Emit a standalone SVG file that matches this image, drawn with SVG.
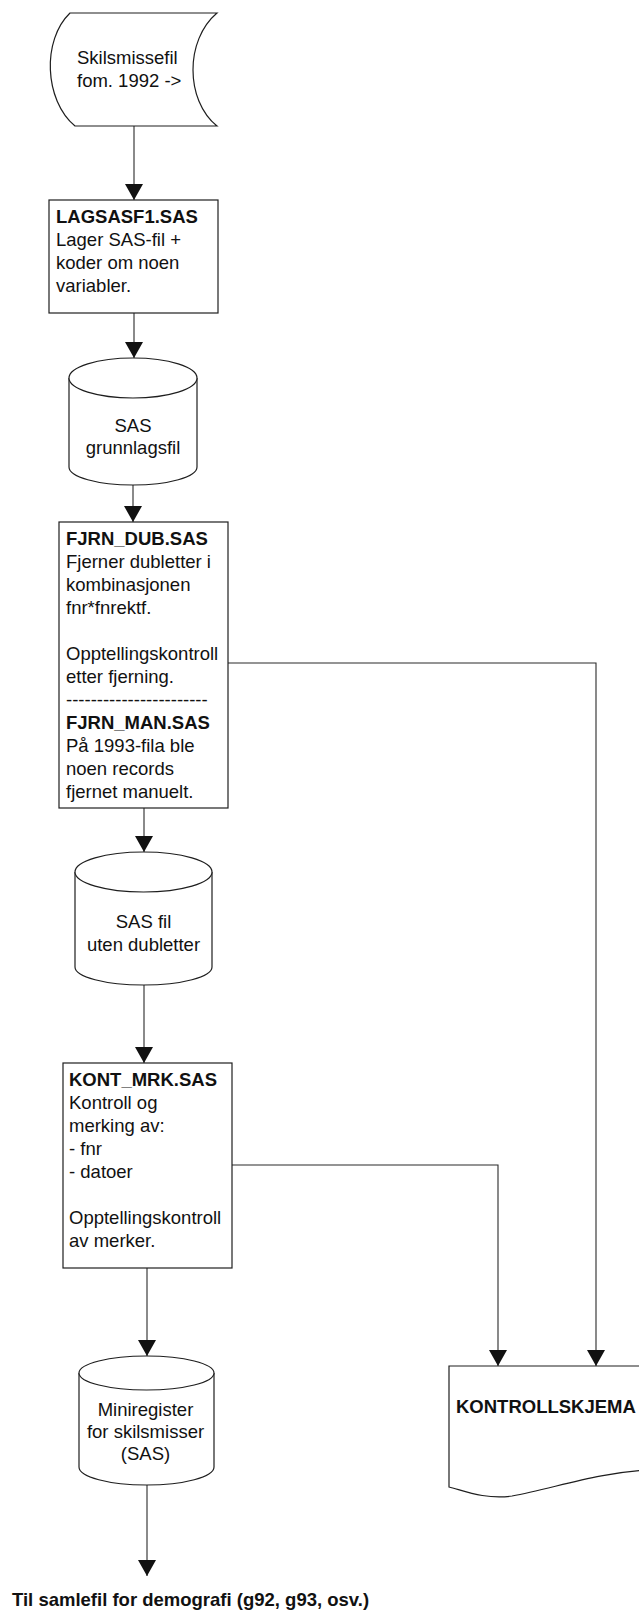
<svg xmlns="http://www.w3.org/2000/svg" width="639" height="1613" viewBox="0 0 639 1613">
<style>
.shape{fill:#fff;stroke:#1e1e1e;stroke-width:1.2}
.line{fill:none;stroke:#2a2a2a;stroke-width:1.1}
text{font-family:"Liberation Sans",Arial,Helvetica,sans-serif;font-size:18.5px;fill:#111}
.b{font-weight:bold}
.c{text-anchor:middle}
</style>
<defs>
<marker id="ah" viewBox="0 0 16 18" refX="16" refY="9" markerWidth="16" markerHeight="18" markerUnits="userSpaceOnUse" orient="auto">
<path d="M0,0 L16,9 L0,18 Z" fill="#111"/>
</marker>
</defs>
<rect width="639" height="1613" fill="#fff"/>
<g id="connectors">
<path class="line" d="M134,126 V200" marker-end="url(#ah)"/>
<path class="line" d="M134,313 V358" marker-end="url(#ah)"/>
<path class="line" d="M133,485 V522" marker-end="url(#ah)"/>
<path class="line" d="M144,808 V852" marker-end="url(#ah)"/>
<path class="line" d="M144,985 V1063" marker-end="url(#ah)"/>
<path class="line" d="M147,1268 V1356" marker-end="url(#ah)"/>
<path class="line" d="M147,1485 V1576" marker-end="url(#ah)"/>
<path class="line" d="M228,663 H596 V1366" marker-end="url(#ah)"/>
<path class="line" d="M232,1165 H498 V1366" marker-end="url(#ah)"/>
</g>
<g id="source">
<path class="shape" d="M70,13 L217,13 C185,40 185,100 217,126 L75,126 C44,100 42,40 70,13 Z"/>
<text x="77" y="64">Skilsmissefil</text>
<text x="77" y="87">fom. 1992 -&gt;</text>
</g>
<g id="lagsasf1">
<rect class="shape" x="49" y="200" width="169" height="113"/>
<text x="56" y="223" class="b">LAGSASF1.SAS</text>
<text x="56" y="246">Lager SAS-fil +</text>
<text x="56" y="269">koder om noen</text>
<text x="56" y="292">variabler.</text>
</g>
<g id="grunnlagsfil">
<path class="shape" d="M69,378 V467 A64,18 0 0 0 197,467 V378"/>
<ellipse class="shape" cx="133" cy="378" rx="64" ry="20"/>
<text x="133" y="432" class="c">SAS</text>
<text x="133" y="454" class="c">grunnlagsfil</text>
</g>
<g id="fjrn">
<rect class="shape" x="59" y="522" width="169" height="286"/>
<text x="66" y="545" class="b">FJRN_DUB.SAS</text>
<text x="66" y="568">Fjerner dubletter i</text>
<text x="66" y="591">kombinasjonen</text>
<text x="66" y="614">fnr*fnrektf.</text>
<text x="66" y="660">Opptellingskontroll</text>
<text x="66" y="683">etter fjerning.</text>
<text x="66" y="706">-----------------------</text>
<text x="66" y="729" class="b">FJRN_MAN.SAS</text>
<text x="66" y="752">På 1993-fila ble</text>
<text x="66" y="775">noen records</text>
<text x="66" y="798">fjernet manuelt.</text>
</g>
<g id="utendubletter">
<path class="shape" d="M75,872 V967 A68.5,18 0 0 0 212,967 V872"/>
<ellipse class="shape" cx="143.5" cy="872" rx="68.5" ry="20"/>
<text x="143.5" y="928" class="c">SAS fil</text>
<text x="143.5" y="951" class="c">uten dubletter</text>
</g>
<g id="kontmrk">
<rect class="shape" x="63" y="1063" width="169" height="205"/>
<text x="69" y="1086" class="b">KONT_MRK.SAS</text>
<text x="69" y="1109">Kontroll og</text>
<text x="69" y="1132">merking av:</text>
<text x="69" y="1155">- fnr</text>
<text x="69" y="1178">- datoer</text>
<text x="69" y="1224">Opptellingskontroll</text>
<text x="69" y="1247">av merker.</text>
</g>
<g id="miniregister">
<path class="shape" d="M79,1373 V1467 A67.5,18 0 0 0 214,1467 V1373"/>
<ellipse class="shape" cx="146.5" cy="1373" rx="67.5" ry="17"/>
<text x="145.5" y="1416" class="c">Miniregister</text>
<text x="145.5" y="1438" class="c">for skilsmisser</text>
<text x="145.5" y="1460" class="c">(SAS)</text>
</g>
<g id="kontrollskjema">
<path class="shape" d="M449,1366 H650 V1470 C600,1472 555,1488 512,1496 C485,1500 462,1490 449,1487 Z"/>
<text x="456" y="1413" class="b">KONTROLLSKJEMA</text>
</g>
<g id="output">
<text x="12" y="1606" class="b">Til samlefil for demografi (g92, g93, osv.)</text>
</g>
</svg>
